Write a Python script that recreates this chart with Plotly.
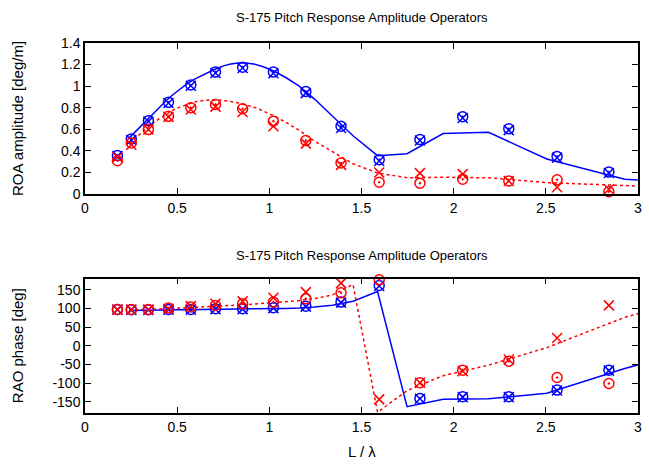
import plotly.graph_objects as go

# Experimental wavenumber ratios L / lambda
x_exp = [0.176, 0.251, 0.344, 0.453, 0.574, 0.708, 0.855, 1.022, 1.198, 1.389,
         1.596, 1.817, 2.049, 2.299, 2.561, 2.842]

# Amplitude [deg/m] - measured
amp_blue_o = [0.357, 0.51, 0.68, 0.85, 1.01, 1.13, 1.176, 1.13, 0.95, 0.628,
              0.317, 0.504, 0.716, 0.604, 0.348, 0.203]
amp_blue_x = [0.352, 0.50, 0.672, 0.843, 1.003, 1.122, 1.168, 1.12, 0.935, 0.612,
              0.305, 0.495, 0.705, 0.592, 0.335, 0.195]
amp_red_o = [0.308, 0.473, 0.597, 0.72, 0.80, 0.83, 0.79, 0.675, 0.495, 0.287,
             0.109, 0.10, 0.137, 0.121, 0.131, 0.021]
amp_red_x = [0.34, 0.457, 0.597, 0.715, 0.784, 0.81, 0.76, 0.628, 0.467, 0.27,
             0.199, 0.193, 0.184, 0.121, 0.063, 0.044]

# Phase [deg] - measured
ph_blue_o = [97.3, 96.5, 96.5, 97.3, 97.0, 99.0, 99.0, 101.8, 106.0, 116.8,
             161.3, -140.9, -136.4, -136.4, -118.7, -65.3]
ph_blue_x = [96.5, 95.8, 95.8, 96.5, 96.2, 98.0, 98.0, 100.8, 104.8, 115.5,
             160.0, -142.0, -137.5, -137.5, -120.0, -66.5]
ph_red_o = [97.0, 97.0, 97.0, 100.9, 103.6, 108.0, 112.4, 116.8, 125.8, 141.7,
            176.5, -99.0, -65.3, -41.3, -85.0, -100.9]
ph_red_x = [97.0, 97.0, 97.0, 99.0, 106.0, 112.4, 118.7, 128.4, 143.6, 167.6,
            -143.6, -99.0, -68.0, -36.9, 20.9, 108.0]

# Strip-theory predictions
x_th = [0.24, 0.26, 0.28, 0.30, 0.33, 0.36, 0.40, 0.44, 0.48, 0.52, 0.56, 0.60,
        0.644, 0.669, 0.696, 0.725, 0.756, 0.791, 0.829, 0.870, 0.916, 0.967,
        1.024, 1.089, 1.162, 1.245, 1.342, 1.454, 1.587, 1.747, 1.943, 2.189,
        2.505, 2.928, 3.52]
amp_th_blue = [0.52, 0.555, 0.59, 0.625, 0.675, 0.73, 0.80, 0.865, 0.925, 0.98,
               1.03, 1.07, 1.11, 1.13, 1.15, 1.17, 1.19, 1.205, 1.215, 1.215,
               1.205, 1.18, 1.14, 1.08, 1.00, 0.88, 0.72, 0.54, 0.355, 0.373,
               0.56, 0.572, 0.324, 0.137, 0.07]
amp_th_red = [0.47, 0.50, 0.53, 0.56, 0.605, 0.645, 0.695, 0.74, 0.78, 0.81,
              0.835, 0.855, 0.868, 0.872, 0.873, 0.871, 0.866, 0.857, 0.845, 0.828,
              0.805, 0.77, 0.725, 0.665, 0.59, 0.49, 0.39, 0.28, 0.195, 0.15,
              0.155, 0.15, 0.105, 0.07, 0.04]
ph_th_blue = [94.5, 94.6, 94.8, 95.0, 95.2, 95.4, 95.6, 95.8, 96.0, 96.2, 96.4,
              96.6, 96.8, 97.0, 97.1, 97.2, 97.4, 97.6, 97.8, 98.0, 98.3, 98.6,
              99.0, 99.8, 101.0, 103.5, 108.5, 119.0, 145.0, -163.0, -143.0,
              -142.0, -127.0, -61.0, 20.0]
ph_th_red = [96.5, 96.6, 96.8, 97.0, 97.3, 97.7, 98.3, 99.0, 99.8, 100.6, 101.5,
             102.5, 103.6, 104.3, 105.0, 105.8, 106.7, 107.7, 108.8, 110.0, 111.4,
             113.0, 115.0, 117.6, 121.0, 126.0, 136.0, 164.0, -178.0, -120.0,
             -80.0, -52.0, -5.0, 76.0, 158.0]

x_ticks = [0, 0.5, 1, 1.5, 2, 2.5, 3]
amp_ticks = [0, 0.2, 0.4, 0.6, 0.8, 1, 1.2, 1.4]
ph_ticks = [-150, -100, -50, 0, 50, 100, 150]
ph_tick_text = ["-150", "-100", "-50", "0", "50", "100", "150"]

BLUE = "#0000ff"
RED = "#ff0000"
FONT = "Liberation Sans, Arial, sans-serif"

fig = go.Figure()


def add_panel(xa, ya, th_blue, th_red, bo, bx, ro, rx):
    fig.add_trace(go.Scatter(x=x_th, y=th_blue, mode="lines", xaxis=xa, yaxis=ya,
                             line=dict(color=BLUE, width=1.5)))
    fig.add_trace(go.Scatter(x=x_th, y=th_red, mode="lines", xaxis=xa, yaxis=ya,
                             line=dict(color=RED, width=1.5, dash="dot")))
    for ys, col, sym in [(bx, BLUE, "x-thin"), (bo, BLUE, "circle-open-dot"),
                         (rx, RED, "x-thin"), (ro, RED, "circle-open-dot")]:
        fig.add_trace(go.Scatter(
            x=x_exp, y=ys, mode="markers", xaxis=xa, yaxis=ya, cliponaxis=False,
            marker=dict(symbol=sym, size=10, color=col,
                        line=dict(color=col, width=1.5))))


add_panel("x", "y", amp_th_blue, amp_th_red, amp_blue_o, amp_blue_x, amp_red_o, amp_red_x)
add_panel("x2", "y2", ph_th_blue, ph_th_red, ph_blue_o, ph_blue_x, ph_red_o, ph_red_x)

axis_common = dict(showline=True, linecolor="black", linewidth=1.5, mirror="ticks",
                   ticks="inside", ticklen=6, tickwidth=1, tickcolor="black",
                   showgrid=False, zeroline=False,
                   tickfont=dict(family=FONT, size=14, color="black"))

fig.update_layout(
    width=649, height=464,
    margin=dict(l=85, r=7, t=43, b=51),
    paper_bgcolor="white", plot_bgcolor="white",
    showlegend=False,
    xaxis=dict(domain=[0, 1], range=[0, 3], tickvals=x_ticks, anchor="y", **axis_common),
    yaxis=dict(domain=[0.592, 1.0], range=[0, 1.4], tickvals=amp_ticks, anchor="x",
               **axis_common),
    xaxis2=dict(domain=[0, 1], range=[0, 3], tickvals=x_ticks, anchor="y2",
                **axis_common),
    yaxis2=dict(domain=[0, 0.3635], range=[-180, 180], tickvals=ph_ticks,
                ticktext=ph_tick_text, anchor="x2", **axis_common),
)

title_font = dict(family=FONT, size=13, color="black")
label_font = dict(family=FONT, size=15, color="black")


def note(text, x, y, font, angle=0):
    fig.add_annotation(text=text, xref="paper", yref="paper", x=x, y=y,
                       xanchor="center", yanchor="middle", showarrow=False,
                       textangle=angle, font=font)


note("S-175 Pitch Response Amplitude Operators", 0.5, 1.068, title_font)
note("S-175 Pitch Response Amplitude Operators", 0.5, 0.427, title_font)
note("L / λ", 0.5, -0.105, label_font)
note("ROA amplitude [deg/m]", -0.122, 0.796, label_font, -90)
note("RAO phase [deg]", -0.122, 0.182, label_font, -90)

fig.write_html("out.html")
